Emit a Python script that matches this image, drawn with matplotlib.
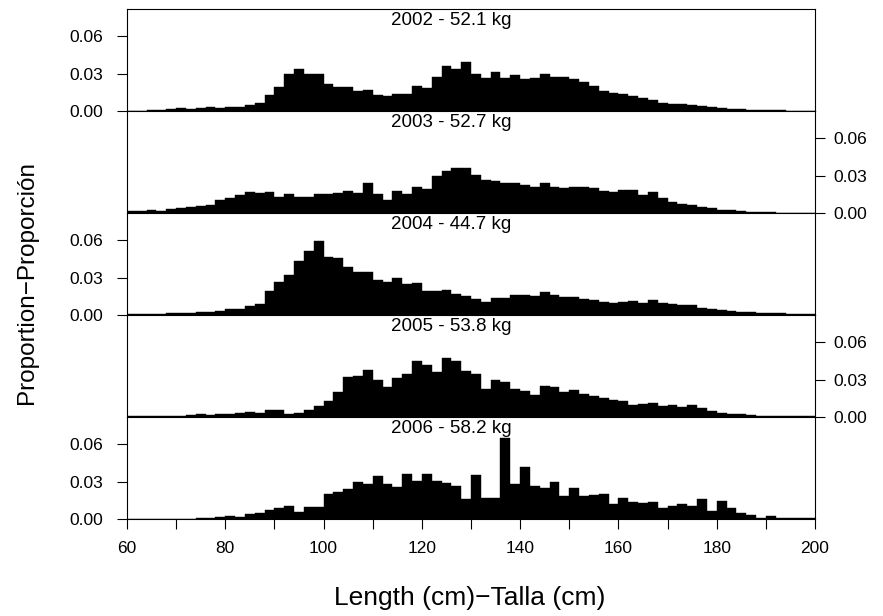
import numpy as np
import matplotlib
matplotlib.use("Agg")
import matplotlib.pyplot as plt

plt.rcParams['font.family'] = ['Liberation Sans', 'DejaVu Sans']

# length bins (left edges, 2 cm wide)
bins = list(range(60, 200, 2))

years = ["2002", "2003", "2004", "2005", "2006"]
weights = ["52.1", "52.7", "44.7", "53.8", "58.2"]

p2002 = [0.0002, 0.0003, 0.0005, 0.0008, 0.0019, 0.0024, 0.0016, 0.0024, 0.0035, 0.0024,
         0.0030, 0.0035, 0.0051, 0.0065, 0.0132, 0.0192, 0.0295, 0.0335, 0.0300, 0.0295,
         0.0220, 0.0192, 0.0192, 0.0160, 0.0165, 0.0130, 0.0119, 0.0138, 0.0135, 0.0205,
         0.0186, 0.0273, 0.0365, 0.0338, 0.0395, 0.0300, 0.0262, 0.0314, 0.0268, 0.0292,
         0.0257, 0.0268, 0.0297, 0.0273, 0.0270, 0.0254, 0.0230, 0.0205, 0.0160, 0.0146,
         0.0135, 0.0119, 0.0105, 0.0089, 0.0068, 0.0060, 0.0054, 0.0046, 0.0038, 0.0030,
         0.0024, 0.0016, 0.0014, 0.0008, 0.0008, 0.0005, 0.0005, 0.0002, 0.0001, 0.0000]

p2003 = [0.0014, 0.0014, 0.0024, 0.0014, 0.0035, 0.0043, 0.0049, 0.0059, 0.0065, 0.0108,
         0.0119, 0.0146, 0.0168, 0.0157, 0.0168, 0.0132, 0.0149, 0.0132, 0.0132, 0.0151,
         0.0149, 0.0157, 0.0173, 0.0157, 0.0240, 0.0151, 0.0108, 0.0173, 0.0154, 0.0211,
         0.0192, 0.0297, 0.0340, 0.0360, 0.0360, 0.0305, 0.0265, 0.0257, 0.0238, 0.0240,
         0.0222, 0.0208, 0.0238, 0.0211, 0.0203, 0.0211, 0.0211, 0.0200, 0.0178, 0.0168,
         0.0186, 0.0181, 0.0143, 0.0168, 0.0124, 0.0089, 0.0070, 0.0065, 0.0049, 0.0038,
         0.0027, 0.0022, 0.0014, 0.0008, 0.0005, 0.0005, 0.0003, 0.0002, 0.0002, 0.0002]

p2004 = [0.0005, 0.0005, 0.0005, 0.0010, 0.0013, 0.0013, 0.0019, 0.0024, 0.0027, 0.0035,
         0.0046, 0.0051, 0.0072, 0.0088, 0.0193, 0.0265, 0.0324, 0.0434, 0.0517, 0.0597,
         0.0469, 0.0455, 0.0386, 0.0343, 0.0346, 0.0279, 0.0265, 0.0297, 0.0249, 0.0260,
         0.0193, 0.0190, 0.0204, 0.0166, 0.0150, 0.0126, 0.0104, 0.0134, 0.0134, 0.0158,
         0.0158, 0.0150, 0.0188, 0.0161, 0.0145, 0.0142, 0.0131, 0.0118, 0.0107, 0.0099,
         0.0104, 0.0113, 0.0099, 0.0118, 0.0094, 0.0091, 0.0083, 0.0078, 0.0059, 0.0051,
         0.0040, 0.0032, 0.0024, 0.0021, 0.0016, 0.0016, 0.0013, 0.0008, 0.0008, 0.0008]

p2005 = [0.0005, 0.0005, 0.0008, 0.0008, 0.0010, 0.0010, 0.0013, 0.0021, 0.0019, 0.0027,
         0.0024, 0.0029, 0.0037, 0.0035, 0.0056, 0.0053, 0.0024, 0.0035, 0.0053, 0.0088,
         0.0125, 0.0205, 0.0320, 0.0333, 0.0381, 0.0296, 0.0243, 0.0315, 0.0344, 0.0451,
         0.0416, 0.0365, 0.0475, 0.0451, 0.0368, 0.0349, 0.0227, 0.0301, 0.0283, 0.0227,
         0.0213, 0.0173, 0.0253, 0.0240, 0.0203, 0.0219, 0.0184, 0.0171, 0.0152, 0.0133,
         0.0131, 0.0099, 0.0104, 0.0112, 0.0088, 0.0096, 0.0083, 0.0096, 0.0069, 0.0051,
         0.0035, 0.0024, 0.0027, 0.0013, 0.0010, 0.0010, 0.0005, 0.0005, 0.0008, 0.0008]

p2006 = [0.0002, 0.0002, 0.0002, 0.0002, 0.0002, 0.0002, 0.0002, 0.0008, 0.0008, 0.0013,
         0.0024, 0.0019, 0.0037, 0.0048, 0.0075, 0.0091, 0.0107, 0.0059, 0.0099, 0.0099,
         0.0204, 0.0220, 0.0241, 0.0297, 0.0279, 0.0346, 0.0284, 0.0260, 0.0362, 0.0303,
         0.0364, 0.0305, 0.0292, 0.0263, 0.0158, 0.0351, 0.0169, 0.0166, 0.0654, 0.0284,
         0.0421, 0.0268, 0.0249, 0.0295, 0.0188, 0.0249, 0.0188, 0.0193, 0.0204, 0.0123,
         0.0169, 0.0134, 0.0131, 0.0139, 0.0088, 0.0107, 0.0118, 0.0102, 0.0158, 0.0067,
         0.0145, 0.0086, 0.0046, 0.0035, 0.0011, 0.0027, 0.0011, 0.0008, 0.0008, 0.0008]

props = [p2002, p2003, p2004, p2005, p2006]

W, H = 883, 616
fig = plt.figure(figsize=(W / 100, H / 100), dpi=100)

left, right = 127 / W, 815 / W
top_px, bot_px = 9, 519
ph = (bot_px - top_px) / 5

for i in range(5):
    y0 = 1 - (top_px + (i + 1) * ph) / H
    ax = fig.add_axes([left, y0, right - left, ph / H])
    ax.bar(bins, props[i], width=2, align='edge', color='black', edgecolor='black', linewidth=0.3)
    ax.set_xlim(60, 200)
    ax.set_ylim(0, 0.082)
    ax.set_yticks([0.0, 0.03, 0.06])
    ax.set_yticklabels(["0.00", "0.03", "0.06"])
    if i % 2 == 1:
        ax.yaxis.tick_right()
        ax.tick_params(axis='y', direction='out', length=7, width=0.8, labelsize=12.5, pad=6)
    else:
        ax.tick_params(axis='y', direction='out', length=7, width=0.8, labelsize=12.5, pad=10)
    ax.set_xticks(range(60, 201, 10))
    if i == 4:
        ax.set_xticklabels([str(v) if v % 20 == 0 else "" for v in range(60, 201, 10)])
        ax.tick_params(axis='x', direction='out', length=7, width=0.8, labelsize=12.5, pad=9)
    else:
        ax.tick_params(axis='x', length=0, labelbottom=False)
    for s in ax.spines.values():
        s.set_linewidth(0.8)
    ax.text(126, 0.0797, years[i] + " - " + weights[i] + " kg", ha='center', va='top', fontsize=13.5)

fig.text(27 / W, 1 - 283 / H, "Proportion\u2212Proporción", rotation=90, ha='center', va='center', fontsize=17.5)
fig.text(470 / W, 1 - 598 / H, "Length (cm)\u2212Talla (cm)", ha='center', va='center', fontsize=19)

fig.savefig("out.png", dpi=100)
